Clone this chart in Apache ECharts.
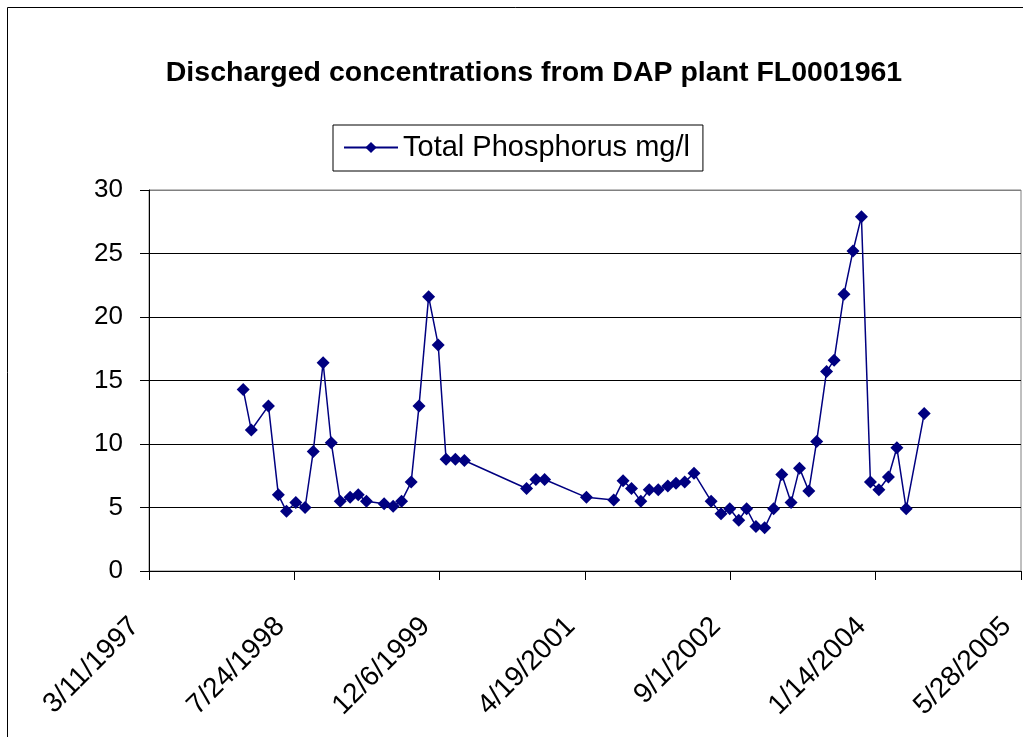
<!DOCTYPE html>
<html lang="en">
<head>
  <meta charset="UTF-8">
  <title>Discharged concentrations from DAP plant FL0001961</title>
  <script src="https://cdn.jsdelivr.net/npm/echarts@6/dist/echarts.min.js"></script>
  <style>
    html, body { margin: 0; padding: 0; background: #fff; }
    #chart { width: 1023px; height: 737px; }
  </style>
</head>
<body>
  <div id="chart"></div>
  <script>
    // sample dates and total phosphorus in mg/l
    var sampleDates = [
      '1998-01-29', '1998-02-26', '1998-04-26', '1998-05-30', '1998-06-27', '1998-07-29',
      '1998-08-30', '1998-09-27', '1998-10-31', '1998-11-28', '1998-12-29', '1999-02-01',
      '1999-03-01', '1999-03-29', '1999-05-29', '1999-06-29', '1999-07-28', '1999-08-30',
      '1999-09-26', '1999-10-29', '1999-12-01', '1999-12-28', '2000-01-29', '2000-02-29',
      '2000-09-30', '2000-11-01', '2000-12-01', '2001-04-24', '2001-07-27', '2001-08-28',
      '2001-09-26', '2001-10-28', '2001-11-26', '2001-12-27', '2002-01-29', '2002-02-26',
      '2002-03-28', '2002-04-29', '2002-06-27', '2002-07-31', '2002-08-30', '2002-09-30',
      '2002-10-27', '2002-11-28', '2002-12-28', '2003-01-28', '2003-02-25', '2003-03-29',
      '2003-04-27', '2003-05-29', '2003-06-25', '2003-07-29', '2003-08-24', '2003-09-27',
      '2003-10-28', '2003-11-26', '2003-12-27', '2004-01-25', '2004-02-27', '2004-03-27',
      '2004-04-28', '2004-06-29'
    ];
    var phosphorus = [
      14.3, 11.1, 13.0, 6.0, 4.7, 5.4,
      5.0, 9.4, 16.4, 10.1, 5.5, 5.8,
      6.0, 5.5, 5.3, 5.1, 5.5, 7.0,
      13.0, 21.6, 17.8, 8.8, 8.8, 8.7,
      6.5, 7.2, 7.2, 5.8, 5.6, 7.1,
      6.5, 5.5, 6.4, 6.4, 6.7, 6.9,
      7.0, 7.7, 5.5, 4.5, 4.9, 4.0,
      4.9, 3.5, 3.4, 4.9, 7.6, 5.4,
      8.1, 6.3, 10.2, 15.7, 16.6, 21.8,
      25.2, 27.9, 7.0, 6.4, 7.4, 9.7,
      4.9, 12.4
    ];

    // x axis runs in days from the first tick date, one tick every 500 days
    var axisStart = '1997-03-11';
    var axisDays = 3000;
    var tickDays = 500;
    var yMax = 30;
    var yStep = 5;

    var DAY = 86400000;
    var t0 = Date.parse(axisStart);

    function toDays(s) {
      return Math.round((Date.parse(s) - t0) / DAY);
    }
    function dayLabel(d) {
      var dt = new Date(t0 + d * DAY);
      return (dt.getUTCMonth() + 1) + '/' + dt.getUTCDate() + '/' + dt.getUTCFullYear();
    }

    var points = [];
    for (var i = 0; i < sampleDates.length; i++) {
      points.push([toDays(sampleDates[i]), phosphorus[i]]);
    }

    var font = "'Liberation Sans', Arial, sans-serif";
    var oChart = echarts.init(document.getElementById('chart'));

    var option = {
      animation: false,
      backgroundColor: '#fff',
      textStyle: { fontFamily: font, color: '#000' },
      title: {
        text: 'Discharged concentrations from DAP plant FL0001961',
        left: 534,
        top: 59,
        textAlign: 'center',
        padding: 0,
        textStyle: { fontFamily: font, fontSize: 28.5, fontWeight: 'bold', color: '#000' }
      },
      legend: {
        left: 333,
        top: 125,
        padding: [8, 13, 9, 10],
        borderColor: '#000',
        borderWidth: 1,
        itemWidth: 54,
        itemHeight: 14,
        textStyle: { fontFamily: font, fontSize: 29, color: '#000' },
        data: ['Total Phosphorus mg/l']
      },
      graphic: [
        {
          type: 'rect',
          shape: { x: 7.5, y: 7.5, width: 1030, height: 740 },
          style: { fill: 'none', stroke: '#000', lineWidth: 1 },
          silent: true
        }
      ],
      grid: {
        left: 149,
        top: 190,
        right: 2,
        bottom: 166,
        outerBoundsMode: 'none',
        show: true,
        borderColor: '#808080',
        borderWidth: 1
      },
      xAxis: {
        type: 'value',
        min: 0,
        max: axisDays,
        interval: tickDays,
        axisLine: { lineStyle: { color: '#000', width: 1 } },
        axisTick: { show: true, length: 9, lineStyle: { color: '#000' } },
        axisLabel: {
          rotate: 45,
          margin: 37,
          padding: [0, 20, 0, 0],
          fontFamily: font,
          fontSize: 28,
          color: '#000',
          showMinLabel: true,
          showMaxLabel: true,
          hideOverlap: false,
          formatter: dayLabel
        },
        splitLine: { show: false }
      },
      yAxis: {
        type: 'value',
        min: 0,
        max: yMax,
        interval: yStep,
        axisLine: { show: true, lineStyle: { color: '#000', width: 1 } },
        axisTick: { show: true, length: 9, lineStyle: { color: '#000' } },
        axisLabel: { margin: 26, fontFamily: font, fontSize: 26, color: '#000' },
        splitLine: {
          lineStyle: { color: ['#000', '#000', '#000', '#000', '#000', '#000', '#808080'], width: 1 }
        }
      },
      series: [
        {
          name: 'Total Phosphorus mg/l',
          type: 'line',
          data: points,
          symbol: 'diamond',
          symbolSize: 13,
          showAllSymbol: true,
          itemStyle: { color: '#000080' },
          lineStyle: { color: '#000080', width: 1.5 }
        }
      ]
    };

    oChart.setOption(option);
  </script>
</body>
</html>
